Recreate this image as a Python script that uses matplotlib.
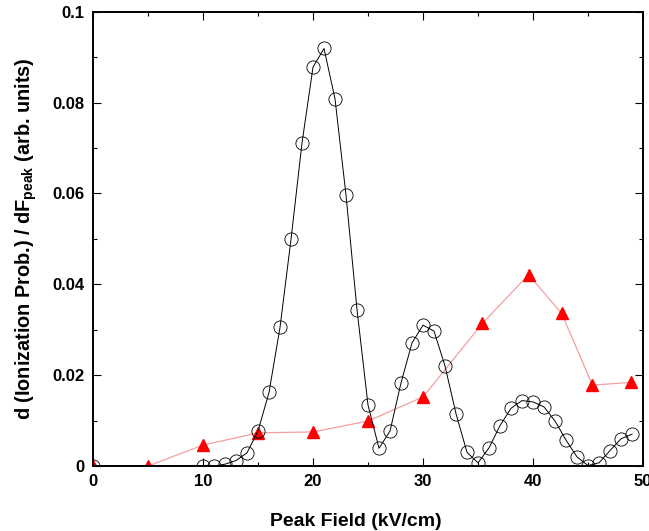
import numpy as np
import matplotlib.pyplot as plt
from matplotlib.ticker import MultipleLocator, FuncFormatter

plt.rcParams['font.family'] = ['Liberation Sans', 'DejaVu Sans']
plt.rcParams['font.weight'] = 'bold'
plt.rcParams['mathtext.fontset'] = 'custom'
plt.rcParams['mathtext.rm'] = 'Liberation Sans:bold'
plt.rcParams['mathtext.bf'] = 'Liberation Sans:bold'

# simulated derivative (open circles)
field_sim = [0, 10, 11, 12, 13, 14, 15, 16, 17, 18, 19, 20, 21, 22, 23, 24,
             25, 26, 27, 28, 29, 30, 31, 32, 33, 34, 35, 36, 37, 38, 39, 40,
             41, 42, 43, 44, 45, 46, 47, 48, 49]
dprob_sim = [0.0, 0.0, 0.0, 0.0004, 0.0012, 0.0029, 0.0077, 0.0162, 0.0305,
             0.0499, 0.0711, 0.0878, 0.0919, 0.0808, 0.0596, 0.0344, 0.0134,
             0.0039, 0.0077, 0.0183, 0.0271, 0.031, 0.0297, 0.022, 0.0115,
             0.003, 0.0007, 0.004, 0.0089, 0.0127, 0.0144, 0.0141, 0.013,
             0.0099, 0.0057, 0.002, 0.0001, 0.0007, 0.0034, 0.006, 0.007]

# measured derivative (red triangles)
field_exp = [0, 5, 10, 15, 20, 25, 30, 35.4, 39.6, 42.6, 45.4, 48.9]
dprob_exp = [0.0, 0.0, 0.0046, 0.0073, 0.0075, 0.0099, 0.0152, 0.0314,
             0.0421, 0.0336, 0.0178, 0.0184]

fig = plt.figure(figsize=(6.49, 5.31), dpi=100)
ax = fig.add_axes([0.1433, 0.1224, 0.8475, 0.8556])

ax.plot(field_exp, dprob_exp, color='#f4a0a0', lw=0.9, marker='^', ms=9,
        mfc='red', mec='red', zorder=2)
ax.plot(field_sim, dprob_sim, color='black', lw=0.7, marker='o', ms=9.5,
        mfc='none', mec='black', mew=0.6, zorder=3)

ax.set_xlim(0, 50)
ax.set_ylim(0, 0.1)
ax.xaxis.set_major_locator(MultipleLocator(10))
ax.xaxis.set_minor_locator(MultipleLocator(5))
ax.yaxis.set_major_locator(MultipleLocator(0.02))
ax.yaxis.set_minor_locator(MultipleLocator(0.01))
ax.yaxis.set_major_formatter(FuncFormatter(lambda v, p: '%g' % round(v, 4)))
ax.tick_params(which='both', direction='in', top=True, right=True,
               labelsize=12)
ax.tick_params(which='major', length=6, width=0.8, pad=6)
ax.tick_params(which='minor', length=3, width=0.8)
for s in ax.spines.values():
    s.set_linewidth(1.4)
for lab in ax.get_xticklabels() + ax.get_yticklabels():
    lab.set_fontweight('bold')

ax.set_xlabel('Peak Field (kV/cm)', fontsize=14, fontweight='bold',
              labelpad=17, x=0.478)
ax.set_ylabel(r'd (Ionization Prob.) / dF$_\mathbf{peak}$ (arb. units)',
              fontsize=14.3, fontweight='bold', labelpad=10)

fig.savefig('out.png', dpi=100)
